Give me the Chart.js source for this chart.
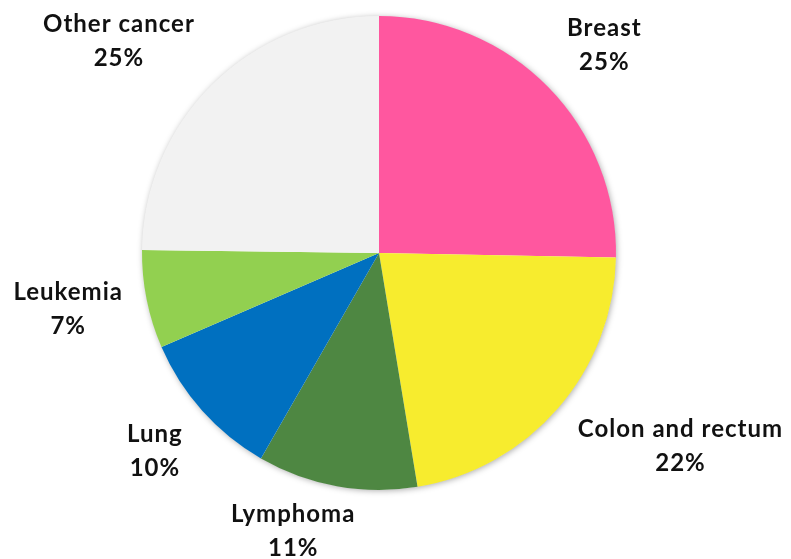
<!DOCTYPE html>
<html>
<head>
<meta charset="utf-8">
<script src="https://cdn.jsdelivr.net/npm/chart.js@4"></script>
<style>
html,body{margin:0;padding:0;background:#fff;}
#wrap{width:791px;height:559px;position:relative;}
</style>
</head>
<body>
<div id="wrap"><canvas id="c" width="791" height="559"></canvas></div>
<script>
const categories = ['Breast', 'Colon and rectum', 'Lymphoma', 'Lung', 'Leukemia', 'Other cancer'];
const shares = [25.3, 22.1, 10.9, 10.2, 6.7, 24.8];
const percentLabels = ['25%', '22%', '11%', '10%', '7%', '25%'];

const sliceColors = ['#FF579F', '#F7EC2E', '#4E8742', '#0070C0', '#92D050', '#F2F2F2'];

const shadowPlugin = {
  id: 'pieShadow',
  beforeDatasetsDraw(chart) {
    const meta = chart.getDatasetMeta(0);
    if (!meta.data.length) return;
    const a = meta.data[0];
    const ctx = chart.ctx;
    ctx.save();
    ctx.shadowColor = 'rgba(0,0,0,0.35)';
    ctx.shadowBlur = 6;
    ctx.shadowOffsetX = 1;
    ctx.shadowOffsetY = 1;
    ctx.fillStyle = '#ffffff';
    ctx.beginPath();
    ctx.arc(a.x, a.y, a.outerRadius - 0.5, 0, Math.PI * 2);
    ctx.fill();
    ctx.restore();
  }
};

const labelPlugin = {
  id: 'outerLabels',
  afterDatasetsDraw(chart, args, opts) {
    const ctx = chart.ctx;
    const meta = chart.getDatasetMeta(0);
    ctx.save();
    ctx.font = opts.font;
    if ('letterSpacing' in ctx) ctx.letterSpacing = opts.letterSpacing;
    ctx.fillStyle = opts.color;
    ctx.textAlign = 'center';
    ctx.textBaseline = 'middle';
    const lh = opts.lineHeight;
    meta.data.forEach((arc, i) => {
      const p = arc.getProps(['x', 'y', 'startAngle', 'endAngle', 'outerRadius'], true);
      const mid = (p.startAngle + p.endAngle) / 2;
      const ux = Math.cos(mid), uy = Math.sin(mid);
      const lines = [categories[i], percentLabels[i]];
      const w = Math.max(...lines.map(t => ctx.measureText(t).width)) + 2 * opts.padX;
      const h = lines.length * lh;
      const hBox = h + 2 * opts.padY;
      const r = p.outerRadius + opts.gap;
      const px = p.x + ux * r, py = p.y + uy * r;
      const m = Math.max(Math.abs(ux), Math.abs(uy));
      const nudge = (opts.nudge && opts.nudge[i]) || [0, 0];
      const cx = px + ux * (w / 2) / m + nudge[0];
      const cy = py + uy * (hBox / 2) / m + nudge[1];
      lines.forEach((t, k) => {
        ctx.fillText(t, cx, cy - h / 2 + lh * (k + 0.5));
      });
    });
    ctx.restore();
  }
};

new Chart(document.getElementById('c'), {
  type: 'pie',
  data: {
    labels: categories,
    datasets: [{
      data: shares,
      backgroundColor: sliceColors,
      borderWidth: 0
    }]
  },
  options: {
    responsive: false,
    animation: false,
    layout: { padding: { top: 16, bottom: 69, left: 142, right: 175 } },
    plugins: {
      legend: { display: false },
      tooltip: { enabled: false },
      outerLabels: {
        font: 'bold 24px Lato',
        letterSpacing: '1px',
        color: '#111111',
        lineHeight: 34,
        gap: 18,
        padX: 6,
        padY: -4,
        nudge: [[0, 0], [0, 0], [-28, -3], [0, 2], [0, 0], [0, 0]]
      }
    }
  },
  plugins: [shadowPlugin, labelPlugin]
});
</script>
</body>
</html>
